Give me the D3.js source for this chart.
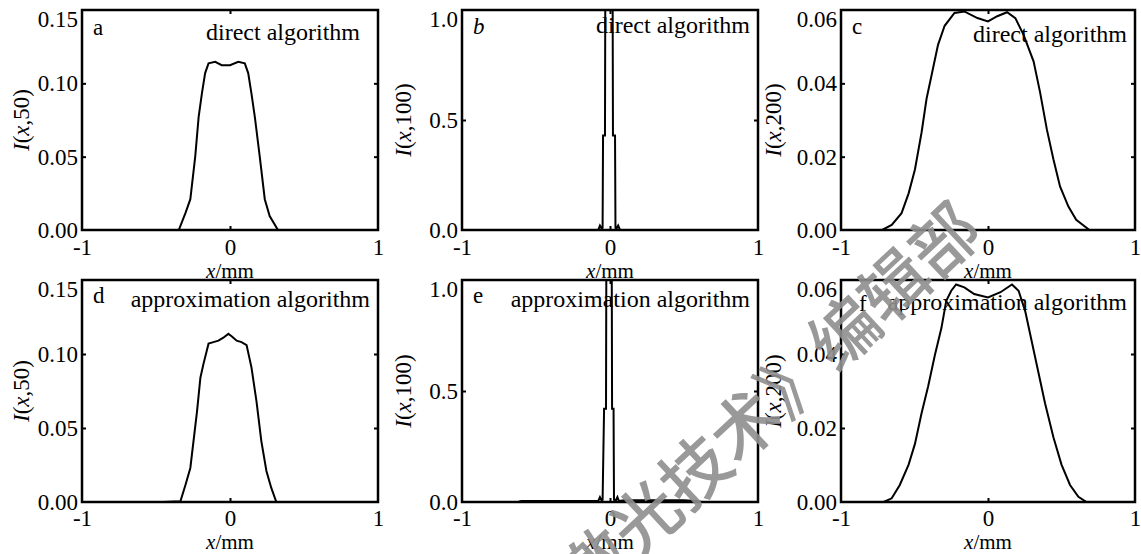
<!DOCTYPE html>
<html>
<head>
<meta charset="utf-8">
<script src="https://cdn.jsdelivr.net/npm/d3@7"></script>
<style>
  body { margin: 0; background: #fff; }
  svg { display: block; }
  svg text { font-family: "Liberation Serif", "Times New Roman", serif; }
</style>
</head>
<body>
<svg id="chart" width="1141" height="554"></svg>
<script>
// tick values
const xTicks = [-1, 0, 1];
const yTicks50 = [0, 0.05, 0.10, 0.15];
const yTicks100 = [0, 0.5, 1.0];
const yTicks200 = [0, 0.02, 0.04, 0.06];

// I(x,z), [x in mm, intensity]
const directZ50 = [[-1,0],[-0.346,0],[-0.30,0.0118],[-0.268,0.021],[-0.235,0.050],[-0.212,0.077],[-0.19,0.093],
  [-0.168,0.107],[-0.145,0.1136],[-0.10,0.1147],[-0.056,0.1124],[0,0.1124],[0.056,0.1147],[0.10,0.1136],
  [0.123,0.107],[0.145,0.093],[0.168,0.077],[0.201,0.050],[0.235,0.021],[0.268,0.0095],[0.324,0],[1,0]];

const directZ100 = [[-1,0],[-0.08,0],[-0.068,0.02],[-0.058,0.008],[-0.05,0.01],[-0.047,0.43],[-0.034,0.43],
  [-0.032,1.0],[0.018,1.0],[0.02,0.43],[0.034,0.43],[0.037,0.01],[0.045,0.008],[0.055,0.02],[0.068,0],[1,0]];

const directZ200 = [[-1,0],[-0.72,0],[-0.655,0.0014],[-0.588,0.0046],[-0.54,0.010],[-0.497,0.0165],[-0.452,0.0266],
  [-0.418,0.0358],[-0.385,0.042],[-0.34,0.0505],[-0.295,0.0557],[-0.228,0.0592],[-0.161,0.0596],[-0.072,0.0578],
  [0,0.0569],[0.063,0.0583],[0.13,0.0594],[0.186,0.0578],[0.242,0.0532],[0.31,0.046],[0.354,0.0376],[0.40,0.0275],
  [0.445,0.0193],[0.49,0.0119],[0.547,0.0064],[0.60,0.0028],[0.69,0],[1,0]];

const approxZ50 = [[-1,0],[-0.45,0],[-0.335,0.0005],[-0.30,0.0118],[-0.268,0.023],[-0.223,0.061],[-0.20,0.084],
  [-0.18,0.093],[-0.145,0.107],[-0.112,0.108],[-0.078,0.109],[-0.045,0.111],[-0.011,0.1136],[0.011,0.112],
  [0.045,0.109],[0.078,0.108],[0.112,0.106],[0.145,0.091],[0.179,0.068],[0.212,0.041],[0.246,0.021],
  [0.279,0.0095],[0.313,0],[1,0]];

const approxZ100 = [[-1,0],[-0.62,0],[-0.6,0.004],[-0.3,0.004],[-0.1,0.004],[-0.08,0.004],[-0.068,0.022],
  [-0.058,0.008],[-0.05,0.01],[-0.04,0.42],[-0.027,0.42],[-0.025,1.0],[0.012,1.0],[0.014,0.42],[0.024,0.42],
  [0.027,0.01],[0.04,0.008],[0.05,0.022],[0.06,0.004],[0.1,0.008],[0.5,0.008],[0.58,0.005],[0.62,0],[1,0]];

const approxZ200 = [[-1,0],[-0.71,0],[-0.655,0.001],[-0.60,0.0046],[-0.54,0.0101],[-0.497,0.0157],[-0.452,0.024],
  [-0.407,0.0313],[-0.362,0.0396],[-0.317,0.047],[-0.284,0.0544],[-0.25,0.0571],[-0.217,0.0588],[-0.161,0.058],
  [-0.094,0.0562],[0,0.0553],[0.085,0.0567],[0.163,0.0588],[0.208,0.0571],[0.253,0.0516],[0.298,0.0433],
  [0.343,0.035],[0.388,0.0267],[0.445,0.0175],[0.50,0.0101],[0.558,0.0046],[0.615,0.0014],[0.67,0],[1,0]];

const panels = [
  { tag: 'a', data: directZ50,  yTicks: yTicks50,  fmt: '.2f', z: '50',  note: 'direct algorithm' },
  { tag: 'b', data: directZ100, yTicks: yTicks100, fmt: '.1f', z: '100', note: 'direct algorithm', italicTag: true },
  { tag: 'c', data: directZ200, yTicks: yTicks200, fmt: '.2f', z: '200', note: 'direct algorithm' },
  { tag: 'd', data: approxZ50,  yTicks: yTicks50,  fmt: '.2f', z: '50',  note: 'approximation algorithm' },
  { tag: 'e', data: approxZ100, yTicks: yTicks100, fmt: '.1f', z: '100', note: 'approximation algorithm' },
  { tag: 'f', data: approxZ200, yTicks: yTicks200, fmt: '.2f', z: '200', note: 'approximation algorithm' }
];

// layout
const colLeft = [82, 462, 841];
const colW = [296, 296, 294];
const yLabelX = [21, 403, 773];
const rowTop = [10, 280];
const rowH = [220, 222];
const tickPad = [9, 8];
const unitDy = [47.5, 47];
const noteOffset = [[18, 30], [8, 23], [8, 32], [8, 27], [8, 27], [8, 30]];
const tagOffset = [[11, 25], [11, 24], [11, 24], [11, 23], [11, 23], [18, 31]];

const svg = d3.select('#chart');
const fontSize = 23;

panels.forEach((p, i) => {
  const col = i % 3, row = Math.floor(i / 3);
  const left = colLeft[col], top = rowTop[row], h = rowH[row], w = colW[col];
  const yMax = d3.max(p.yTicks);

  const x = d3.scaleLinear().domain([-1, 1]).range([left, left + w]);
  const y = d3.scaleLinear().domain([0, yMax]).range([top + h, top]);

  const g = svg.append('g');

  g.append('clipPath').attr('id', 'clip' + i)
    .append('rect').attr('x', left).attr('y', top).attr('width', w).attr('height', h);

  const line = d3.line().x(d => x(d[0])).y(d => y(d[1]));
  g.append('path')
    .datum(p.data)
    .attr('clip-path', 'url(#clip' + i + ')')
    .attr('d', line)
    .attr('fill', 'none')
    .attr('stroke', '#000')
    .attr('stroke-width', 2);

  // labelled axes
  const xAxis = g.append('g')
    .attr('transform', 'translate(0,' + (top + h) + ')')
    .call(d3.axisBottom(x).tickValues(xTicks).tickFormat(d => String(d)).tickSize(0).tickPadding(tickPad[row]));
  const yAxis = g.append('g')
    .attr('transform', 'translate(' + left + ',0)')
    .call(d3.axisLeft(y).tickValues(p.yTicks).tickFormat(d3.format(p.fmt)).tickSize(0).tickPadding(4));
  [xAxis, yAxis].forEach(a => {
    a.attr('font-size', null).attr('font-family', null);
    a.select('.domain').remove();
    a.selectAll('text').attr('font-size', fontSize).attr('fill', '#000');
  });
  // top label sits a little below its tick, as in the figure
  yAxis.selectAll('.tick').filter(d => d === yMax).select('text').attr('y', 9);

  // small inward ticks on all four edges
  const innerX = xTicks.slice(1, -1);
  const innerY = p.yTicks.slice(1, -1);
  const marks = [
    ['translate(0,' + (top + h) + ')', d3.axisBottom(x).tickValues(innerX).tickSizeInner(-4)],
    ['translate(0,' + top + ')', d3.axisTop(x).tickValues(innerX).tickSizeInner(-4)],
    ['translate(' + left + ',0)', d3.axisLeft(y).tickValues(innerY).tickSizeInner(-4)],
    ['translate(' + (left + w) + ',0)', d3.axisRight(y).tickValues(innerY).tickSizeInner(-4)]
  ];
  marks.forEach(([tr, ax]) => {
    const m = g.append('g').attr('transform', tr).call(ax.tickSizeOuter(0).tickFormat(''));
    m.select('.domain').remove();
    m.selectAll('line').attr('stroke', '#000').attr('stroke-width', 2);
  });

  // frame
  g.append('rect')
    .attr('x', left).attr('y', top).attr('width', w).attr('height', h)
    .attr('fill', 'none').attr('stroke', '#000').attr('stroke-width', 2.5);

  // x label
  const xl = g.append('text')
    .attr('x', left + w / 2).attr('y', top + h + unitDy[row])
    .attr('text-anchor', 'middle').attr('font-size', 21);
  xl.append('tspan').attr('font-style', 'italic').text('x');
  xl.append('tspan').text('/mm');

  // y label
  const cy = top + h / 2;
  const yl = g.append('text')
    .attr('transform', 'translate(' + yLabelX[col] + ',' + cy + ') rotate(-90)')
    .attr('text-anchor', 'middle').attr('dy', '0.35em').attr('font-size', 23);
  yl.append('tspan').attr('font-style', 'italic').text('I');
  yl.append('tspan').text('(');
  yl.append('tspan').attr('font-style', 'italic').text('x');
  yl.append('tspan').text(',' + p.z + ')');

  // panel tag and method note
  g.append('text')
    .attr('x', left + tagOffset[i][0]).attr('y', top + tagOffset[i][1])
    .attr('font-size', fontSize)
    .attr('font-style', p.italicTag ? 'italic' : null)
    .text(p.tag);
  g.append('text')
    .attr('x', left + w - noteOffset[i][0]).attr('y', top + noteOffset[i][1])
    .attr('text-anchor', 'end').attr('font-size', 24)
    .text(p.note);
});

// watermark
svg.append('text')
  .attr('transform', 'translate(742,422) rotate(-43)')
  .attr('text-anchor', 'middle').attr('dominant-baseline', 'central')
  .attr('style', 'font-family:"Noto Sans CJK SC", sans-serif')
  .attr('font-size', 68).attr('font-weight', 500)
  .attr('fill', '#8f8f8f').attr('opacity', 0.9)
  .text('《激光技术》编辑部');
</script>
</body>
</html>
